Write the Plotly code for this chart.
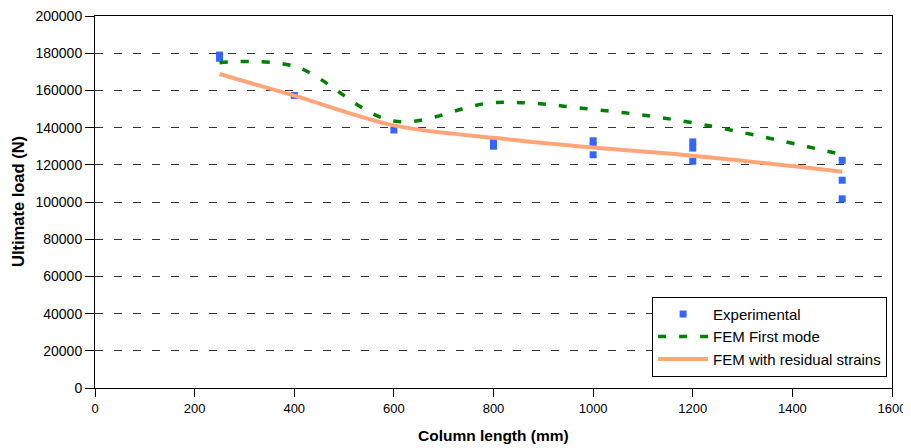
import plotly.graph_objects as go

lengths = [250, 400, 600, 800, 1000, 1200, 1500]
fem_first_mode = [174900, 173000, 143500, 153400, 149800, 142600, 125500]
fem_residual = [168800, 157200, 141200, 134500, 129300, 124900, 116300]

exp_x = [250, 250, 400, 600, 800, 800, 1000, 1000, 1000, 1200, 1200, 1200, 1500, 1500, 1500]
exp_y = [179000, 177300, 157300, 138700, 133200, 130000, 132900, 130400, 125400,
         132300, 129000, 121900, 122400, 111700, 101700]

x_ticks = list(range(0, 1601, 200))
y_ticks = list(range(0, 200001, 20000))

font_family = "Liberation Sans, Arial, sans-serif"

fig = go.Figure()
fig.add_trace(go.Scatter(
    x=exp_x, y=exp_y, mode="markers", name="Experimental",
    marker=dict(symbol="square", size=7, color="#3366FF", line=dict(width=0)),
))
fig.add_trace(go.Scatter(
    x=lengths, y=fem_first_mode, mode="lines", name="FEM First mode",
    line=dict(color="#008000", width=3.5, dash="8px,13px", shape="spline", smoothing=1.0),
))
fig.add_trace(go.Scatter(
    x=lengths, y=fem_residual, mode="lines", name="FEM with residual strains",
    line=dict(color="#FFA577", width=4, shape="spline", smoothing=1.0),
))

# the page body has an 8px margin, so the figure is sized/margined to compensate
fig.update_layout(
    width=903, height=440,
    margin=dict(l=87, r=19, t=8, b=60),
    plot_bgcolor="white", paper_bgcolor="white",
    font=dict(family=font_family, size=12, color="black"),
    showlegend=True,
    legend=dict(
        x=0.699, y=0.245, xanchor="left", yanchor="top",
        bgcolor="white", bordercolor="black", borderwidth=1,
        font=dict(family=font_family, size=15, color="black"),
        itemwidth=50, tracegroupgap=0,
    ),
    annotations=[
        dict(text="<b>Column length (mm)</b>", xref="paper", yref="paper",
             x=0.5, y=-0.129, xanchor="center", yanchor="middle", showarrow=False,
             font=dict(family=font_family, size=15.5, color="black")),
        dict(text="<b>Ultimate load (N)</b>", xref="paper", yref="paper",
             x=-0.0966, y=0.5, xanchor="center", yanchor="middle", showarrow=False,
             textangle=-90,
             font=dict(family=font_family, size=16.5, color="black")),
    ],
)
fig.update_xaxes(
    range=[0, 1600], tickvals=x_ticks, ticktext=[str(v) for v in x_ticks],
    showgrid=False, zeroline=False, automargin=False, ticklabeloverflow="allow",
    showline=True, linecolor="black", linewidth=1, mirror=True,
    ticks="outside", ticklen=8, tickcolor="black",
    tickfont=dict(size=13),
)
fig.update_yaxes(
    range=[0, 200000], tickvals=y_ticks, ticktext=[str(v) for v in y_ticks],
    showgrid=True, gridcolor="#333333", gridwidth=1, griddash="8px,11px",
    zeroline=False, automargin=False, ticklabeloverflow="allow",
    showline=True, linecolor="black", linewidth=1, mirror=True,
    ticks="outside", ticklen=9, tickcolor="black",
    tickfont=dict(size=14),
)

fig.write_html("out.html")
